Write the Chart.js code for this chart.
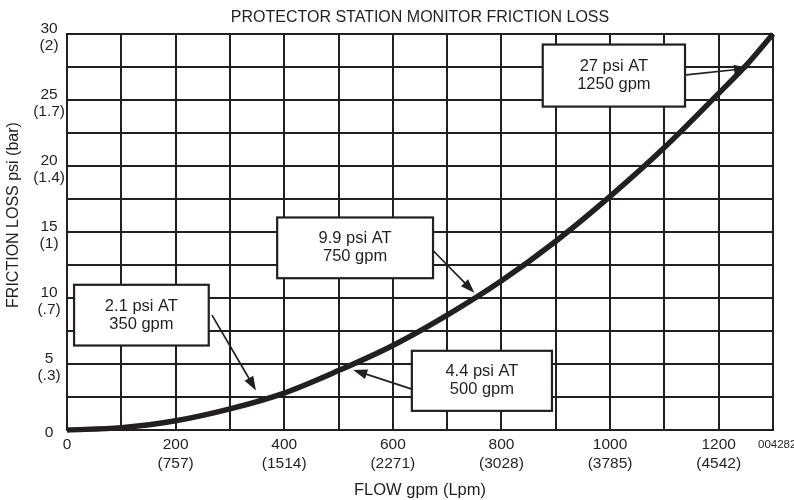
<!DOCTYPE html>
<html lang="en">
<head>
    <meta charset="UTF-8">
    <title>Protector Station Monitor Friction Loss</title>
    <style>
        html, body { margin: 0; padding: 0; background: #fff; }
        #wrap { position: relative; width: 794px; height: 500px; }
    </style>
</head>
<body>
    <div id="wrap"><canvas id="myChart"></canvas></div>

    <script src="https://cdn.jsdelivr.net/npm/chart.js"></script>

    <script>
        // curve
        const flowGpm = [0, 100, 200, 300, 400, 500, 600, 700, 800, 900, 1000, 1100, 1200, 1250, 1300]
        const lossPsi = [0, 0.18, 0.7, 1.6, 2.8, 4.5, 6.4, 8.7, 11.3, 14.3, 17.7, 21.4, 25.5, 27.6, 30]

        // tick labels
        const xTickGpm = [0, 200, 400, 600, 800, 1000, 1200]
        const xTickLpm = ['', '(757)', '(1514)', '(2271)', '(3028)', '(3785)', '(4542)']
        const yTickPsi = [0, 5, 10, 15, 20, 25, 30]
        const yTickBar = ['', '(.3)', '(.7)', '(1)', '(1.4)', '(1.7)', '(2)']

        // callouts: text, box (gpm left, gpm right, psi top, psi bottom), arrow from -> to
        const noteText = [['2.1 psi AT', '350 gpm'], ['4.4 psi AT', '500 gpm'], ['9.9 psi AT', '750 gpm'], ['27 psi AT', '1250 gpm']]
        const noteBox = [[13, 261, 11.0, 6.4], [635, 893, 6.0, 1.45], [387, 674, 16.1, 11.5], [876, 1138, 29.2, 24.5]]
        const noteFrom = [[267, 8.7], [635, 3.1], [674, 13.6], [1140, 26.9]]
        const noteTo = [[348, 3.0], [527, 4.55], [750, 10.4], [1254, 27.4]]

        const ink = '#231f20'
        const fontFam = "'Liberation Sans', Arial, Helvetica, sans-serif"

        const arrow = (c, x1, y1, x2, y2) => {
            const a = Math.atan2(y2 - y1, x2 - x1)
            const hl = 14, hw = 5
            c.beginPath()
            c.moveTo(x1, y1)
            c.lineTo(x2 - Math.cos(a) * hl * 0.8, y2 - Math.sin(a) * hl * 0.8)
            c.lineWidth = 1.7
            c.strokeStyle = ink
            c.stroke()
            c.beginPath()
            c.moveTo(x2, y2)
            c.lineTo(x2 - Math.cos(a) * hl - Math.sin(a) * hw, y2 - Math.sin(a) * hl + Math.cos(a) * hw)
            c.lineTo(x2 - Math.cos(a) * hl + Math.sin(a) * hw, y2 - Math.sin(a) * hl - Math.cos(a) * hw)
            c.closePath()
            c.fillStyle = ink
            c.fill()
        }

        const callouts = {
            id: 'callouts',
            afterDatasetsDraw(chart) {
                const c = chart.ctx
                const xs = chart.scales.x, ys = chart.scales.y
                const area = chart.chartArea
                c.save()
                noteBox.forEach((b, i) => {
                    const l = xs.getPixelForValue(b[0]), r = xs.getPixelForValue(b[1])
                    const t = ys.getPixelForValue(b[2]), btm = ys.getPixelForValue(b[3])
                    c.fillStyle = '#fff'
                    c.fillRect(l, t, r - l, btm - t)
                    c.lineWidth = 2.2
                    c.strokeStyle = ink
                    c.strokeRect(l, t, r - l, btm - t)
                    c.fillStyle = ink
                    c.font = '16.5px ' + fontFam
                    c.textAlign = 'center'
                    c.textBaseline = 'middle'
                    const cx = (l + r) / 2, cy = (t + btm) / 2
                    c.fillText(noteText[i][0], cx, cy - 9)
                    c.fillText(noteText[i][1], cx, cy + 9)
                    arrow(c, xs.getPixelForValue(noteFrom[i][0]), ys.getPixelForValue(noteFrom[i][1]),
                        xs.getPixelForValue(noteTo[i][0]), ys.getPixelForValue(noteTo[i][1]))
                })
                // figure number
                c.fillStyle = ink
                c.font = '11.5px ' + fontFam
                c.textAlign = 'left'
                c.textBaseline = 'middle'
                c.fillText('004282', area.right - 15, area.bottom + 15)

                // y axis title, sits a bit above the middle in the original
                c.translate(14, (area.top + area.bottom) / 2 - 17)
                c.rotate(-Math.PI / 2)
                c.font = '16px ' + fontFam
                c.textAlign = 'center'
                c.fillText('FRICTION LOSS psi (bar)', 0, 0)
                c.restore()
            }
        }

        var ctx = document.getElementById('myChart')
        var myChart = new Chart(ctx, {
            type: 'line',
            data: {
                datasets: [{
                    label: 'FRICTION LOSS',
                    data: flowGpm.map((g, i) => ({ x: g, y: lossPsi[i] })),
                    borderColor: ink,
                    borderWidth: 5.5,
                    pointRadius: 0,
                    cubicInterpolationMode: 'monotone',
                    fill: false,
                    clip: false
                }]
            },
            options: {
                responsive: true,
                maintainAspectRatio: false,
                animation: false,
                layout: { padding: { left: 0, right: 21, top: 0, bottom: 0 } },
                plugins: {
                    legend: { display: false },
                    tooltip: { enabled: false },
                    title: {
                        display: true,
                        fullSize: false,
                        text: 'PROTECTOR STATION MONITOR FRICTION LOSS',
                        color: ink,
                        font: { family: fontFam, size: 16, weight: 'normal', lineHeight: '18px' },
                        padding: { top: 9, bottom: 7 }
                    }
                },
                scales: {
                    x: {
                        type: 'linear',
                        min: 0,
                        max: 1300,
                        afterFit: (s) => { s.height = 70 },
                        ticks: {
                            stepSize: 100,
                            autoSkip: false,
                            maxRotation: 0,
                            padding: 5,
                            color: ink,
                            font: { family: fontFam, size: 15.5, lineHeight: '19px' },
                            callback: (v) => {
                                const i = xTickGpm.indexOf(v)
                                if (i < 0) return ''
                                return xTickLpm[i] ? [String(v), xTickLpm[i]] : String(v)
                            }
                        },
                        grid: { color: ink, lineWidth: 2, drawTicks: false },
                        border: { color: ink, width: 2 },
                        title: {
                            display: true,
                            text: 'FLOW gpm (Lpm)',
                            color: ink,
                            font: { family: fontFam, size: 16.5, lineHeight: 1.2 },
                            padding: { top: 0, bottom: 0 }
                        }
                    },
                    y: {
                        min: 0,
                        max: 30,
                        afterFit: (s) => { s.width = 67 },
                        ticks: {
                            stepSize: 2.5,
                            autoSkip: false,
                            padding: 2,
                            labelOffset: 3,
                            crossAlign: 'center',
                            color: ink,
                            font: { family: fontFam, size: 15.5, lineHeight: '17px' },
                            callback: (v) => {
                                const i = yTickPsi.indexOf(v)
                                if (i < 0) return ''
                                return yTickBar[i] ? [String(v), yTickBar[i]] : String(v)
                            }
                        },
                        grid: { color: ink, lineWidth: 2, drawTicks: false },
                        border: { color: ink, width: 2 },
                        title: { display: false }
                    }
                }
            },
            plugins: [callouts]
        })
    </script>
</body>
</html>
